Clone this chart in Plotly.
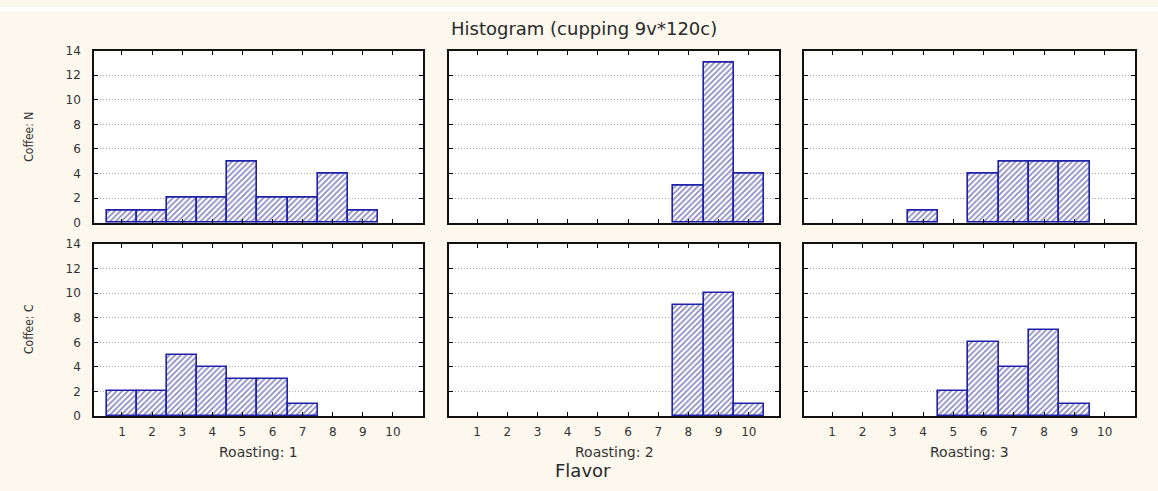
import plotly.graph_objects as go

W, H = 1158, 491

# ---------------- data ----------------
flavor = [1, 2, 3, 4, 5, 6, 7, 8, 9, 10]
coffee_labels = ["Coffee: N", "Coffee: C"]
roasting_labels = ["Roasting: 1", "Roasting: 2", "Roasting: 3"]

counts_N_R1 = [1, 1, 2, 2, 5, 2, 2, 4, 1, 0]
counts_N_R2 = [0, 0, 0, 0, 0, 0, 0, 3, 13, 4]
counts_N_R3 = [0, 0, 0, 1, 0, 4, 5, 5, 5, 0]
counts_C_R1 = [2, 2, 5, 4, 3, 3, 1, 0, 0, 0]
counts_C_R2 = [0, 0, 0, 0, 0, 0, 0, 9, 10, 1]
counts_C_R3 = [0, 0, 0, 0, 2, 6, 4, 7, 1, 0]

y_ticks = [0, 2, 4, 6, 8, 10, 12, 14]
x_ticks = flavor
title_text = "Histogram (cupping 9v*120c)"
x_title = "Flavor"

panels = [
    [counts_N_R1, counts_N_R2, counts_N_R3],
    [counts_C_R1, counts_C_R2, counts_C_R3],
]

# ---------------- layout geometry (pixels) ----------------
col_px = [(94, 423), (449, 779), (804, 1135)]
row_px = [(45, 222), (244, 421)]

def px_x(p):
    return p / W

def px_y(p):
    return 1 - p / H

BG = "#fcf8ee"
BAR_LINE = "#2020aa"
HATCH = "#1a1a8c"
WIDE = "DejaVu Sans, Verdana, sans-serif"
TEXTC = "#333333"
TICKFONT = dict(family=WIDE, size=12, color=TEXTC)

fig = go.Figure()
layout_axes = {}
k = 0
for r in range(2):
    for c in range(3):
        k += 1
        xname = "x" if k == 1 else f"x{k}"
        yname = "y" if k == 1 else f"y{k}"
        vals = [v if v > 0 else None for v in panels[r][c]]
        fig.add_trace(go.Bar(
            x=flavor, y=vals, width=1, xaxis=xname, yaxis=yname,
            showlegend=False, hoverinfo="x+y",
            marker=dict(
                color="white",
                line=dict(color=BAR_LINE, width=1.6),
                pattern=dict(shape="/", fgcolor=HATCH, bgcolor="white",
                             size=4, solidity=0.45),
            ),
        ))
        xkey = "xaxis" if k == 1 else f"xaxis{k}"
        ykey = "yaxis" if k == 1 else f"yaxis{k}"
        layout_axes[xkey] = dict(
            domain=[px_x(col_px[c][0]), px_x(col_px[c][1])],
            anchor=yname,
            range=[0.07, 11],
            tickvals=x_ticks,
            showticklabels=(r == 1),
            ticks="inside", ticklen=4, tickwidth=1.2, tickcolor="black",
            showline=True, linecolor="#111111", linewidth=1.6, mirror="allticks",
            showgrid=False, zeroline=False,
            tickfont=TICKFONT, ticklabelstandoff=4,
            fixedrange=True,
        )
        layout_axes[ykey] = dict(
            domain=[px_y(row_px[r][1]), px_y(row_px[r][0])],
            anchor=xname,
            range=[0, 14],
            tickvals=y_ticks,
            showticklabels=(c == 0),
            ticks="inside", ticklen=4, tickwidth=1.2, tickcolor="black",
            showline=True, linecolor="#111111", linewidth=1.6, mirror="allticks",
            showgrid=True, gridcolor="#a9a9a9", griddash="1px,2px", gridwidth=1,
            zeroline=False,
            tickfont=TICKFONT, ticklabelstandoff=9,
            fixedrange=True,
        )

annotations = []
# title
annotations.append(dict(
    text=title_text, x=px_x(584), y=px_y(22), xref="paper", yref="paper",
    xanchor="center", yanchor="middle", showarrow=False,
    font=dict(family=WIDE, size=18, color="#2a2a2a"),
))
# roasting labels
for c in range(3):
    annotations.append(dict(
        text=roasting_labels[c], x=px_x((col_px[c][0] + col_px[c][1]) / 2), y=px_y(458),
        xref="paper", yref="paper", xanchor="center", yanchor="middle", showarrow=False,
        font=dict(family=WIDE, size=14, color=TEXTC),
    ))
# x title
annotations.append(dict(
    text=x_title, x=px_x(583), y=px_y(477), xref="paper", yref="paper",
    xanchor="center", yanchor="middle", showarrow=False,
    font=dict(family=WIDE, size=18, color="#2a2a2a"),
))
# coffee labels
for r in range(2):
    annotations.append(dict(
        text=coffee_labels[r], x=px_x(29), y=px_y((row_px[r][0] + row_px[r][1]) / 2),
        xref="paper", yref="paper", xanchor="center", yanchor="middle", showarrow=False,
        textangle=-90,
        font=dict(family="Liberation Sans Narrow, DejaVu Sans Condensed, Arial Narrow, Liberation Sans, sans-serif",
                  size=12, color=TEXTC),
    ))

fig.update_layout(
    width=W, height=H,
    margin=dict(l=0, r=0, t=0, b=0),
    paper_bgcolor=BG, plot_bgcolor="white",
    bargap=0,
    annotations=annotations,
    shapes=[dict(type="rect", xref="paper", yref="paper", x0=0, x1=1,
                 y0=px_y(4), y1=1, fillcolor="white", line=dict(width=0), layer="below")],
    **layout_axes,
)

fig.write_html("out.html")
